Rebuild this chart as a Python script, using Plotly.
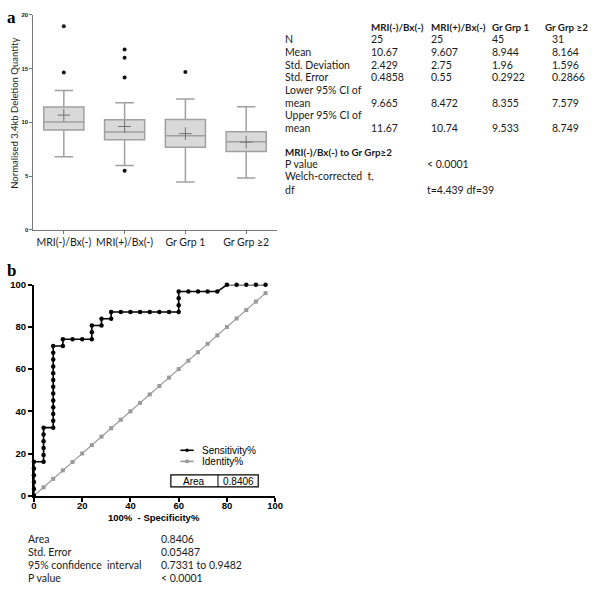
import plotly.graph_objects as go

# ---------------- Panel a data ----------------
groups = ["MRI(-)/Bx(-)", "MRI(+)/Bx(-)", "Gr Grp 1", "Gr Grp ≥2"]
q1 = [9.29, 8.37, 7.67, 7.28]
median = [10.02, 9.10, 8.74, 8.19]
q3 = [11.42, 10.23, 10.26, 9.13]
whisker_low = [6.79, 5.97, 4.45, 4.81]
whisker_high = [12.97, 11.81, 12.17, 11.44]
means = [10.67, 9.607, 8.944, 8.164]
outlier_groups = ["MRI(-)/Bx(-)", "MRI(-)/Bx(-)", "MRI(+)/Bx(-)", "MRI(+)/Bx(-)",
                  "MRI(+)/Bx(-)", "MRI(+)/Bx(-)", "Gr Grp 1"]
outlier_values = [18.93, 14.64, 16.77, 16.01, 14.16, 5.48, 14.67]
y_ticks_a = [0, 5, 10, 15, 20]

# table a
table_a_header = ["MRI(-)/Bx(-)", "MRI(+)/Bx(-)", "Gr Grp 1", "Gr Grp ≥2"]
row_N = ["25", "25", "45", "31"]
row_mean = ["10.67", "9.607", "8.944", "8.164"]
row_sd = ["2.429", "2.75", "1.96", "1.596"]
row_se = ["0.4858", "0.55", "0.2922", "0.2866"]
row_lower = ["9.665", "8.472", "8.355", "7.579"]
row_upper = ["11.67", "10.74", "9.533", "8.749"]
test_title = "MRI(-)/Bx(-) to Gr Grp≥2"
test_p = "< 0.0001"
test_t = "t=4.439 df=39"

# ---------------- Panel b data ----------------
fpr = [0, 0, 0, 0, 0, 0,
       4, 4, 4, 4, 4, 4,
       8, 8, 8, 8, 8, 8, 8, 8, 8, 8, 8, 8, 8,
       12, 12, 16, 20, 24, 24, 24, 28, 28, 32, 32,
       36, 40, 44, 48, 52, 56,
       60, 60, 60, 60, 64, 68, 72, 76,
       80, 84, 88, 92, 96]
sens = [0, 3.23, 6.45, 9.68, 12.9, 16.13,
        16.13, 19.35, 22.58, 25.81, 29.03, 32.26,
        32.26, 35.48, 38.71, 41.94, 45.16, 48.39, 51.61, 54.84, 58.06, 61.29, 64.52, 67.74, 70.97,
        70.97, 74.19, 74.19, 74.19, 74.19, 77.42, 80.65, 80.65, 83.87, 83.87, 87.1,
        87.1, 87.1, 87.1, 87.1, 87.1, 87.1,
        87.1, 90.32, 93.55, 96.77, 96.77, 96.77, 96.77, 96.77,
        100, 100, 100, 100, 100]
identity_x = [0, 4, 8, 12, 16, 20, 24, 28, 32, 36, 40, 44, 48, 52, 56, 60, 64, 68, 72, 76, 80, 84, 88, 92, 96]
identity_y = [0, 4, 8, 12, 16, 20, 24, 28, 32, 36, 40, 44, 48, 52, 56, 60, 64, 68, 72, 76, 80, 84, 88, 92, 96]
roc_ticks = [0, 20, 40, 60, 80, 100]
area_value = "0.8406"
table_b_labels = ["Area", "Std. Error", "95% confidence  interval", "P value"]
table_b_values = ["0.8406", "0.05487", "0.7331 to 0.9482", "< 0.0001"]

W, H = 600, 592
def X(px):
    return px / W
def Y(py):
    return 1 - py / H

TFONT = dict(family="Lato", size=10.5, color="#1a1a1a")
HFONT = dict(family="Lato", size=9.8, color="#1a1a1a")

fig = go.Figure()

fig.add_trace(go.Box(
    x=groups, q1=q1, median=median, q3=q3,
    lowerfence=whisker_low, upperfence=whisker_high,
    boxpoints=False, fillcolor="#d9d9d9",
    line=dict(color="#a0a0a0", width=1.5), whiskerwidth=0.46, width=0.66,
    xaxis="x", yaxis="y", showlegend=False, hoverinfo="skip"))
fig.add_trace(go.Scatter(
    x=groups, y=means, mode="markers",
    marker=dict(symbol="cross-thin", size=9, line=dict(color="#707070", width=1)),
    xaxis="x", yaxis="y", showlegend=False, cliponaxis=False))
fig.add_trace(go.Scatter(
    x=outlier_groups, y=outlier_values, mode="markers",
    marker=dict(symbol="circle", size=4, color="#111"),
    xaxis="x", yaxis="y", showlegend=False, cliponaxis=False))

fig.add_trace(go.Scatter(
    x=identity_x, y=identity_y, mode="lines+markers",
    line=dict(color="#9a9a9a", width=1.2),
    marker=dict(symbol="square", size=4, color="#9a9a9a"),
    xaxis="x2", yaxis="y2", showlegend=False, cliponaxis=False))
fig.add_trace(go.Scatter(
    x=fpr, y=sens, mode="lines+markers",
    line=dict(color="#000", width=1.6),
    marker=dict(symbol="circle", size=4.5, color="#000"),
    xaxis="x2", yaxis="y2", showlegend=False, cliponaxis=False))

ann = []
shapes = []

def txt(text, px, py, font, xanchor="left", **kw):
    d = dict(text=text, x=X(px), y=Y(py), xref="paper", yref="paper",
             xanchor=xanchor, yanchor="middle", font=font, showarrow=False)
    d.update(kw)
    ann.append(d)

# panel labels
SER = dict(family="Liberation Serif", size=17, color="#000")
txt("<b>a</b>", 2, 12, SER)
txt("<b>b</b>", 2, 270, SER)

# y-axis title panel a
txt("Normalised 3.4kb Deletion Quantity", 12, 109, dict(family="Lato", size=9.5, color="#1a1a1a"),
    xanchor="center", textangle=-90)

# table a
col_x = [373, 434, 496, 557]
for i, (cx, h) in enumerate(zip(col_x, table_a_header)):
    if i == 3:
        txt("<b>" + h + "</b>", 598, 21.7, HFONT, xanchor="right")
    else:
        txt("<b>" + h + "</b>", cx, 21.7, HFONT)
rows = [("N", 33.3, row_N), ("Mean", 46.7, row_mean), ("Std. Deviation", 60, row_sd),
        ("Std. Error", 72.7, row_se), ("Lower 95% CI of", 85.7, None), ("mean", 99, row_lower),
        ("Upper 95% CI of", 111.3, None), ("mean", 124.3, row_upper)]
for lab, py, vals in rows:
    txt(lab, 285, py, TFONT)
    if vals:
        for cx, v in zip(col_x, vals):
            txt(v, cx, py, TFONT)
txt("<b>" + test_title + "</b>", 285, 148.7, HFONT)
for lab, py, val in [("P value", 160.7, test_p), ("Welch-corrected  t,", 173.7, None), ("df", 187, test_t)]:
    txt(lab, 285, py, TFONT)
    if val:
        txt(val, 430, py, TFONT)

# ROC x title
txt("<b>100%  - Specificity%</b>", 154, 521, dict(family="Liberation Sans", size=9.5, color="#000"),
    xanchor="center")

# ROC legend (drawn)
LFONT = dict(family="Liberation Sans", size=10, color="#000")
for py, lab, col, sym in [(452.7, "Sensitivity%", "#000", "circle"), (464, "Identity%", "#9a9a9a", "square")]:
    shapes.append(dict(type="line", xref="paper", yref="paper", x0=X(180.7), x1=X(194.3),
                       y0=Y(py), y1=Y(py), line=dict(color=col, width=1.6)))
    shapes.append(dict(type="circle" if sym == "circle" else "rect", xref="paper", yref="paper",
                       x0=X(185.7), x1=X(189.3), y0=Y(py + 1.8), y1=Y(py - 1.8),
                       fillcolor=col, line=dict(width=0)))
    txt(lab, 201, py, LFONT)

# Area box
shapes.append(dict(type="rect", xref="paper", yref="paper", x0=X(171), x1=X(260),
                   y0=Y(490), y1=Y(477.7), line=dict(color="#000", width=1.2)))
shapes.append(dict(type="line", xref="paper", yref="paper", x0=X(219), x1=X(219),
                   y0=Y(490), y1=Y(477.7), line=dict(color="#000", width=1)))
txt("Area", 195, 484, LFONT, xanchor="center")
txt(area_value, 239.5, 484, LFONT, xanchor="center")

# table b
for i, (lab, val) in enumerate(zip(table_b_labels, table_b_values)):
    py = 543 + i * 13.2
    txt(lab, 23, py, TFONT)
    txt(val, 159, py, TFONT)

fig.update_layout(
    width=W, height=H, margin=dict(l=0, r=0, t=0, b=0),
    paper_bgcolor="white", plot_bgcolor="white",
    xaxis=dict(domain=[X(31), X(278.7)], anchor="y", type="category",
               range=[-0.5, 3.5], showline=True, linecolor="#777", linewidth=1,
               ticks="outside", ticklen=3, tickcolor="#777", showgrid=False, zeroline=False,
               tickfont=dict(family="Lato", size=10.5, color="#1a1a1a")),
    yaxis=dict(domain=[Y(228), Y(9)], anchor="x", range=[0, 20], tickvals=y_ticks_a,
               showline=True, linecolor="#777", linewidth=1, ticks="outside", ticklen=3,
               tickcolor="#777", showgrid=False, zeroline=False,
               tickfont=dict(family="Liberation Sans", size=6, color="#222", weight="bold")),
    xaxis2=dict(domain=[X(31.5), X(277.3)], anchor="y2", range=[0, 100], tickvals=roc_ticks,
                showline=True, linecolor="#000", linewidth=2, ticks="outside", ticklen=4,
                tickwidth=1.5, tickcolor="#000", showgrid=False, zeroline=False,
                ticklabelstandoff=-4,
                tickfont=dict(family="Liberation Sans", size=9.5, color="#000", weight="bold")),
    yaxis2=dict(domain=[Y(499), Y(284)], anchor="x2", range=[0, 100], tickvals=roc_ticks,
                showline=True, linecolor="#000", linewidth=2, ticks="outside", ticklen=4,
                tickwidth=1.5, tickcolor="#000", showgrid=False, zeroline=False,
                tickfont=dict(family="Liberation Sans", size=9.5, color="#000", weight="bold")),
    annotations=ann, shapes=shapes,
)

fig.write_html("out.html", config={"displayModeBar": False},
               post_script="document.body.style.margin='0';document.body.style.overflow='hidden';")
